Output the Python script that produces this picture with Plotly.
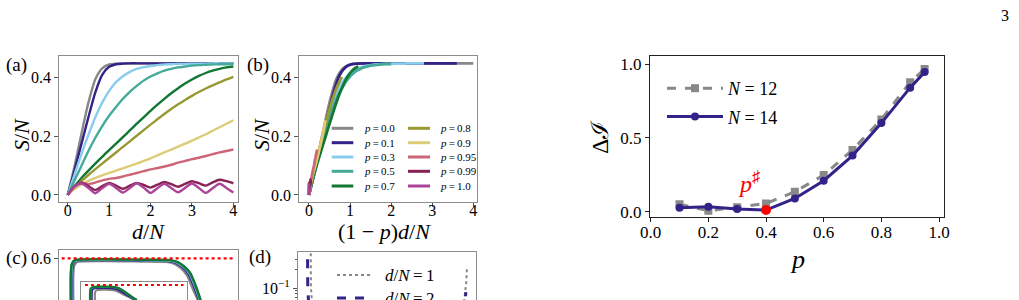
import plotly.graph_objects as go

W, H = 1019, 300
SERIF = '"Liberation Serif", "Times New Roman", Times, "DejaVu Serif", serif'

# ---------------- panel (a) / (b) data ----------------
D_OVER_N = [0.0, 0.167, 0.333, 0.5, 0.667, 0.833, 1.0, 1.167, 1.333, 1.5,
            1.667, 1.833, 2.0, 2.167, 2.333, 2.5, 2.667, 2.833, 3.0, 3.167,
            3.333, 3.5, 3.667, 3.833, 4.0]
P_VALUES_AB = [0.0, 0.1, 0.3, 0.5, 0.7, 0.8, 0.9, 0.95, 0.99, 1.0]
P_LABELS_AB = ["0.0", "0.1", "0.3", "0.5", "0.7", "0.8", "0.9", "0.95", "0.99", "1.0"]
S_P000 = [0.0, 0.10, 0.21, 0.315, 0.395, 0.432, 0.445, 0.448, 0.449, 0.449, 0.449, 0.449, 0.449,
          0.449, 0.449, 0.449, 0.449, 0.449, 0.449, 0.449, 0.449, 0.449, 0.449, 0.449, 0.449]
S_P010 = [0.0, 0.085, 0.175, 0.265, 0.35, 0.41, 0.437, 0.446, 0.448, 0.449, 0.449, 0.449, 0.449,
          0.449, 0.449, 0.449, 0.449, 0.449, 0.449, 0.449, 0.449, 0.449, 0.449, 0.449, 0.449]
S_P030 = [0.0, 0.07, 0.14, 0.205, 0.265, 0.315, 0.355, 0.385, 0.405, 0.42, 0.43, 0.436, 0.44,
          0.443, 0.445, 0.446, 0.447, 0.447, 0.448, 0.448, 0.448, 0.449, 0.449, 0.449, 0.449]
S_P050 = [0.0, 0.05, 0.10, 0.15, 0.195, 0.235, 0.27, 0.30, 0.328, 0.352, 0.372, 0.39, 0.404,
          0.415, 0.424, 0.43, 0.435, 0.438, 0.441, 0.443, 0.444, 0.445, 0.446, 0.446, 0.447]
S_P070 = [0.0, 0.03, 0.058, 0.083, 0.107, 0.13, 0.153, 0.175, 0.197, 0.22, 0.243, 0.265, 0.287,
          0.308, 0.328, 0.347, 0.364, 0.38, 0.394, 0.406, 0.416, 0.424, 0.43, 0.435, 0.438]
S_P080 = [0.0, 0.025, 0.047, 0.068, 0.088, 0.107, 0.126, 0.145, 0.164, 0.183, 0.202, 0.221, 0.24,
          0.258, 0.276, 0.293, 0.309, 0.324, 0.338, 0.351, 0.363, 0.374, 0.384, 0.394, 0.403]
S_P090 = [0.0, 0.02, 0.036, 0.048, 0.058, 0.067, 0.075, 0.083, 0.091, 0.099, 0.107, 0.116, 0.125,
          0.135, 0.145, 0.155, 0.165, 0.175, 0.185, 0.196, 0.207, 0.219, 0.231, 0.243, 0.255]
S_P095 = [0.0, 0.03, 0.042, 0.037, 0.042, 0.05, 0.055, 0.058, 0.063, 0.069, 0.075, 0.081, 0.087,
          0.092, 0.097, 0.103, 0.11, 0.116, 0.122, 0.127, 0.133, 0.139, 0.145, 0.15, 0.155]
S_P099 = [0.0, 0.03, 0.042, 0.03, 0.017, 0.03, 0.041, 0.032, 0.021, 0.032, 0.041, 0.034, 0.025,
          0.035, 0.044, 0.037, 0.028, 0.038, 0.047, 0.04, 0.032, 0.043, 0.052, 0.047, 0.04]
S_P100 = [0.0, 0.028, 0.039, 0.024, 0.006, 0.023, 0.038, 0.024, 0.008, 0.024, 0.04, 0.025, 0.007,
          0.023, 0.038, 0.024, 0.009, 0.024, 0.039, 0.024, 0.007, 0.023, 0.038, 0.024, 0.008]
S_SERIES = [S_P000, S_P010, S_P030, S_P050, S_P070, S_P080, S_P090, S_P095, S_P099, S_P100]
COLORS = ["#888888", "#332288", "#88CCEE", "#44AA99", "#117733",
          "#999933", "#DDCC77", "#CC6677", "#882255", "#AA4499"]

# ---------------- panel (c) data (main + inset) ----------------
C_X_P00 = [0.078, 0.078, 0.083, 0.10, 0.25, 0.45, 0.60, 0.645, 0.68, 0.715, 0.745, 0.775]
C_Y_P00 = [0.502, 0.56, 0.583, 0.592, 0.594, 0.593, 0.592, 0.587, 0.577, 0.56, 0.53, 0.502]
C_X_P01 = [0.071, 0.071, 0.076, 0.094, 0.25, 0.45, 0.61, 0.655, 0.69, 0.725, 0.755, 0.782]
C_Y_P01 = [0.502, 0.56, 0.585, 0.594, 0.596, 0.595, 0.594, 0.589, 0.579, 0.562, 0.532, 0.502]
C_X_P03 = [0.067, 0.067, 0.072, 0.09, 0.25, 0.45, 0.615, 0.66, 0.695, 0.73, 0.76, 0.787]
C_Y_P03 = [0.502, 0.56, 0.586, 0.595, 0.597, 0.596, 0.595, 0.59, 0.58, 0.564, 0.534, 0.502]
C_X_P05 = [0.065, 0.065, 0.07, 0.088, 0.25, 0.45, 0.62, 0.663, 0.697, 0.732, 0.762, 0.789]
C_Y_P05 = [0.502, 0.56, 0.586, 0.596, 0.598, 0.597, 0.596, 0.591, 0.581, 0.565, 0.535, 0.502]
C_X_P07 = [0.064, 0.064, 0.069, 0.087, 0.25, 0.45, 0.62, 0.665, 0.699, 0.734, 0.764, 0.791]
C_Y_P07 = [0.502, 0.56, 0.586, 0.596, 0.598, 0.597, 0.596, 0.591, 0.581, 0.565, 0.535, 0.502]
C_MAIN = [(C_X_P00, C_Y_P00, 0), (C_X_P01, C_Y_P01, 1), (C_X_P03, C_Y_P03, 2),
          (C_X_P05, C_Y_P05, 3), (C_X_P07, C_Y_P07, 4)]
CI_X_P00 = [0.134, 0.134, 0.14, 0.16, 0.22, 0.28, 0.33, 0.37, 0.41, 0.46, 0.51]
CI_Y_P00 = [0.509, 0.55, 0.563, 0.57, 0.572, 0.571, 0.566, 0.555, 0.54, 0.525, 0.509]
CI_X_P01 = [0.104, 0.104, 0.11, 0.13, 0.2, 0.29, 0.34, 0.38, 0.42, 0.47, 0.52]
CI_Y_P01 = [0.509, 0.55, 0.572, 0.58, 0.582, 0.581, 0.575, 0.562, 0.545, 0.527, 0.509]
CI_X_P05 = [0.092, 0.092, 0.097, 0.118, 0.2, 0.3, 0.35, 0.39, 0.432, 0.478, 0.527]
CI_Y_P05 = [0.509, 0.55, 0.576, 0.587, 0.589, 0.588, 0.582, 0.569, 0.55, 0.529, 0.509]
CI_X_P07 = [0.088, 0.088, 0.093, 0.115, 0.2, 0.3, 0.35, 0.39, 0.434, 0.48, 0.53]
CI_Y_P07 = [0.509, 0.55, 0.577, 0.588, 0.59, 0.589, 0.583, 0.57, 0.551, 0.53, 0.509]
C_INSET = [(CI_X_P00, CI_Y_P00, 0), (CI_X_P01, CI_Y_P01, 1),
           (CI_X_P05, CI_Y_P05, 3), (CI_X_P07, CI_Y_P07, 4)]
C_REF_LEVEL = 0.6

# ---------------- panel (d) data ----------------
D_LABELS = ["1", "2"]
D_X_DN1 = [0.071, 0.071, 0.073, 0.08, 0.15, 0.35, 0.5, 0.65, 0.85, 0.93, 0.945, 0.949]
D_Y_DN1 = [0.6, 0.2, 0.1, 0.05, 0.02, 0.01, 0.008, 0.01, 0.02, 0.05, 0.12, 0.21]
D_X_DN2 = [0.053, 0.053, 0.055, 0.062, 0.15, 0.35, 0.5, 0.65, 0.85, 0.935, 0.943]
D_Y_DN2 = [0.6, 0.2, 0.1, 0.04, 0.01, 0.004, 0.003, 0.004, 0.01, 0.04, 0.085]

# ---------------- right panel data ----------------
P_RIGHT = [0.1, 0.2, 0.3, 0.4, 0.5, 0.6, 0.7, 0.8, 0.9, 0.95]
DI_N12 = [0.05, 0.007, 0.03, 0.056, 0.135, 0.248, 0.418, 0.625, 0.876, 0.966]
DI_N14 = [0.027, 0.034, 0.018, 0.011, 0.09, 0.21, 0.38, 0.60, 0.84, 0.945]
P_SHARP = 0.4


def fx(px):
    return px / W


def fy(py):
    return 1 - py / H


fig = go.Figure()

# panel (a)
for s, c in zip(S_SERIES, COLORS):
    fig.add_trace(go.Scatter(x=D_OVER_N, y=s, mode="lines", xaxis="x", yaxis="y",
                             line=dict(color=c, width=2.4, shape="spline", smoothing=0.7),
                             showlegend=False, hoverinfo="skip"))
# panel (b)
for p, s, c in zip(P_VALUES_AB, S_SERIES, COLORS):
    fig.add_trace(go.Scatter(x=[(1 - p) * d for d in D_OVER_N], y=s, mode="lines",
                             xaxis="x2", yaxis="y2",
                             line=dict(color=c, width=2.8, shape="spline", smoothing=0.7),
                             showlegend=False, hoverinfo="skip"))
# panel (c)
for cx, cy, ci in C_MAIN:
    fig.add_trace(go.Scatter(x=cx, y=cy, mode="lines", xaxis="x3", yaxis="y3",
                             line=dict(color=COLORS[ci], width=2.4, shape="spline", smoothing=0.5),
                             showlegend=False, hoverinfo="skip"))
for cx, cy, ci in C_INSET:
    fig.add_trace(go.Scatter(x=cx, y=cy, mode="lines", xaxis="x4", yaxis="y4",
                             line=dict(color=COLORS[ci], width=2.2, shape="spline", smoothing=0.5),
                             showlegend=False, hoverinfo="skip"))
# panel (d)
D_STYLES = [dict(color="#888888", width=2, dash="dot"),
            dict(color="#332288", width=3, dash="dash")]
for dx, dy, st in [(D_X_DN1, D_Y_DN1, D_STYLES[0]), (D_X_DN2, D_Y_DN2, D_STYLES[1])]:
    fig.add_trace(go.Scatter(x=dx, y=dy, mode="lines", xaxis="x5", yaxis="y5",
                             line=st, showlegend=False, hoverinfo="skip"))
# right panel
fig.add_trace(go.Scatter(x=P_RIGHT, y=DI_N12, mode="lines+markers", xaxis="x6", yaxis="y6",
                         line=dict(color="#888888", width=3, dash="dash"),
                         marker=dict(symbol="square", size=8, color="#888888"),
                         name="<i>N</i> = 12", legendgroup="n12"))
fig.add_trace(go.Scatter(x=P_RIGHT, y=DI_N14, mode="lines+markers", xaxis="x6", yaxis="y6",
                         line=dict(color="#332288", width=3),
                         marker=dict(symbol="circle", size=8, color="#332288"),
                         name="<i>N</i> = 14", legendgroup="n14"))
fig.add_trace(go.Scatter(x=[P_SHARP], y=[DI_N14[P_RIGHT.index(P_SHARP)]], mode="markers",
                         xaxis="x6", yaxis="y6",
                         marker=dict(symbol="circle", size=10, color="red"),
                         showlegend=False, hoverinfo="skip"))

tickfont = dict(family=SERIF, size=16, color="black")
tickfont_r = dict(family=SERIF, size=17, color="black")
base = dict(showgrid=False, zeroline=False, showline=True, linewidth=1, ticks="outside",
            ticklen=4, tickwidth=1, automargin=False)
frame_gray = dict(linecolor="#8c8c8c", tickcolor="#555555")
top_only = dict(showgrid=False, zeroline=False, showline=True, linewidth=1, side="top",
                ticks="", showticklabels=False, linecolor="#8c8c8c", range=[0, 1],
                automargin=False)

fig.update_layout(
    width=W, height=H, margin=dict(l=0, r=0, t=0, b=0, autoexpand=False),
    paper_bgcolor="white", plot_bgcolor="white",
    font=dict(family=SERIF, color="black"),
    xaxis=dict(**base, **frame_gray, tickfont=tickfont, mirror=True, anchor="y",
               domain=[fx(59.3), fx(237.5)], range=[-0.203, 4.10],
               tickvals=[0, 1, 2, 3, 4], ticklabelstandoff=-10),
    yaxis=dict(**base, **frame_gray, tickfont=tickfont, mirror=True, anchor="x",
               domain=[fy(201.7), fy(56)], range=[-0.023, 0.474],
               tickvals=[0, 0.2, 0.4], tickformat=".1f"),
    xaxis2=dict(**base, **frame_gray, tickfont=tickfont, mirror=True, anchor="y2",
                domain=[fx(299.3), fx(477.3)], range=[-0.236, 4.098],
                tickvals=[0, 1, 2, 3, 4], ticklabelstandoff=-10),
    yaxis2=dict(**base, **frame_gray, tickfont=tickfont, mirror=True, anchor="x2",
                domain=[fy(201.7), fy(56)], range=[-0.023, 0.474],
                tickvals=[0, 0.2, 0.4], tickformat=".1f"),
    xaxis3=dict(**top_only, anchor="y3", domain=[fx(59.3), fx(238)]),
    yaxis3=dict(**base, **frame_gray, tickfont=tickfont, mirror=True, anchor="x3",
                domain=[0, fy(250)], range=[0.502, 0.62],
                tickvals=[0.6], ticktext=["0.6"]),
    xaxis4=dict(**top_only, anchor="y4", domain=[fx(80.7), fx(186.7)]),
    yaxis4=dict(showgrid=False, zeroline=False, showline=True, linewidth=1, mirror=True,
                linecolor="#8c8c8c", ticks="", showticklabels=False, anchor="x4",
                domain=[0, fy(281.7)], range=[0.509, 0.62]),
    xaxis5=dict(**top_only, anchor="y5", domain=[fx(298), fx(476)]),
    yaxis5=dict(**base, **frame_gray, tickfont=tickfont, mirror=True, anchor="x5", type="log",
                domain=[0, fy(252)], range=[-1.2, -0.4],
                tickvals=[0.1], ticktext=["10<sup>−1</sup>"],
                minor=dict(ticks="outside", ticklen=2, tickcolor="#555555",
                           tickvals=[0.07, 0.08, 0.09, 0.2, 0.3])),
    xaxis6=dict(**base, tickfont=tickfont_r, mirror=True, anchor="y6",
                linecolor="#222222", tickcolor="#222222",
                domain=[fx(650), fx(944)], range=[-0.0024, 1.0173],
                tickvals=[0, 0.2, 0.4, 0.6, 0.8, 1.0], tickformat=".1f",
                ticklabelstandoff=-5),
    yaxis6=dict(**base, tickfont=tickfont_r, mirror=True, anchor="x6",
                linecolor="#222222", tickcolor="#222222",
                domain=[fy(217.3), fy(55.7)], range=[-0.0379, 1.0562],
                tickvals=[0, 0.5, 1.0], tickformat=".1f"),
    legend=dict(x=fx(662), y=fy(70), xanchor="left", yanchor="top",
                font=dict(family=SERIF, size=18, color="black"),
                bgcolor="rgba(0,0,0,0)", itemwidth=56, tracegroupgap=2),
)

shapes = []
# red dotted reference lines in panel (c)
shapes.append(dict(type="line", xref="x3 domain", yref="y3", x0=0.013, x1=0.975,
                   y0=C_REF_LEVEL, y1=C_REF_LEVEL,
                   line=dict(color="red", width=2.2, dash="dot")))
shapes.append(dict(type="line", xref="x4 domain", yref="y4", x0=0.04, x1=0.97,
                   y0=C_REF_LEVEL, y1=C_REF_LEVEL,
                   line=dict(color="red", width=2.2, dash="dot")))

annotations = []
# manual two-column legend in panel (b)
row_y = [128.3, 142.7, 157.0, 171.3, 186.0]
col_line = [(331.7, 353.3, 361.7), (408.0, 430.0, 438.0)]
for i, (lab, c) in enumerate(zip(P_LABELS_AB, COLORS)):
    col, row = divmod(i, 5)
    x0, x1, xt = col_line[col]
    yy = row_y[row]
    shapes.append(dict(type="line", xref="paper", yref="paper", x0=fx(x0), x1=fx(x1),
                       y0=fy(yy), y1=fy(yy), line=dict(color=c, width=3)))
    annotations.append(dict(x=fx(xt), y=fy(yy), xref="paper", yref="paper",
                            xanchor="left", yanchor="middle", showarrow=False,
                            text="<i>p</i>\u2009=\u2009" + lab,
                            font=dict(family=SERIF, size=11, color="black")))

# manual legend in panel (d)
for (lab, st), yy in zip(zip(D_LABELS, D_STYLES), [275.0, 298.0]):
    shapes.append(dict(type="line", xref="paper", yref="paper", x0=fx(337), x1=fx(372),
                       y0=fy(yy), y1=fy(yy), line=st))
    annotations.append(dict(x=fx(383), y=fy(yy), xref="paper", yref="paper",
                            xanchor="left", yanchor="middle", showarrow=False,
                            text="<i>d</i>/<i>N</i>\u2009=\u2009" + lab,
                            font=dict(family=SERIF, size=17, color="black")))


def label(text, x, y, size, angle=0, color="black"):
    annotations.append(dict(x=fx(x), y=fy(y), xref="paper", yref="paper",
                            xanchor="center", yanchor="middle", showarrow=False,
                            text=text, textangle=angle,
                            font=dict(family=SERIF, size=size, color=color)))


label("(a)", 16.5, 65, 19)
label("(b)", 257.5, 65, 19)
label("(c)", 16.5, 258, 19)
label("(d)", 259.5, 257, 19)
label("3", 1005, 15, 16)
label("<i>S</i>/<i>N</i>", 21, 135, 22, -90)
label("<i>S</i>/<i>N</i>", 261, 135, 22, -90)
label("<i>d</i>/<i>N</i>", 148, 231, 22)
label("(1 − <i>p</i>)<i>d</i>/<i>N</i>", 384, 231, 22)
label("Δℐ", 600, 137, 24, -90)
label("<i>p</i>", 797, 259, 26)
label("<i>p</i><sup>♯</sup>", 749, 182, 24, color="red")

fig.update_layout(shapes=shapes, annotations=annotations)
fig.write_html("out.html")
